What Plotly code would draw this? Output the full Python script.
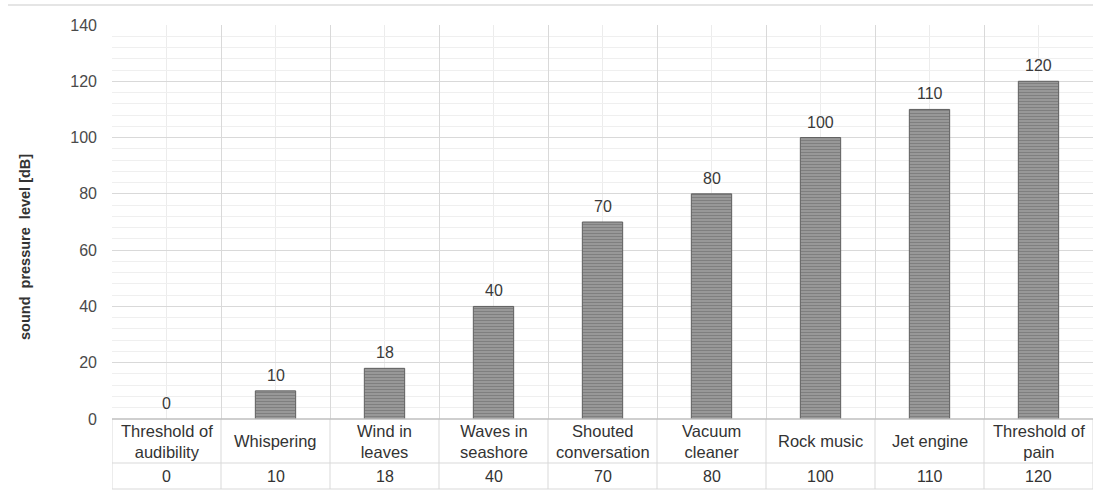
import plotly.graph_objects as go

categories = ["Threshold of<br>audibility", "Whispering", "Wind in<br>leaves", "Waves in<br>seashore",
              "Shouted<br>conversation", "Vacuum<br>cleaner", "Rock music", "Jet engine",
              "Threshold of<br>pain"]
levels_db = [0, 10, 18, 40, 70, 80, 100, 110, 120]
y_ticks = [0, 20, 40, 60, 80, 100, 120, 140]

W, H = 1094, 492
ML, MR, MT, MB = 112, 1, 25, 73
plot_h = H - MT - MB
plot_w = W - ML - MR
n = len(categories)
xs = list(range(n))
FONT = "Arial, Liberation Sans"

def py(px_below_zero):
    # paper y for a pixel offset below the x axis
    return -px_below_zero / plot_h

fig = go.Figure()
fig.add_trace(go.Bar(
    x=xs, y=levels_db, width=0.37,
    marker=dict(color="#8e8e8e",
                # no outline on zero-height bars
                line=dict(color="#5e5e5e", width=[1 if v > 0 else 0 for v in levels_db]),
                pattern=dict(shape="-", fgcolor="#626262", bgcolor="#9c9c9c", size=3, solidity=0.45)),
    hoverinfo="skip",
))

annotations = []
# value labels above bars
for i, v in zip(xs, levels_db):
    annotations.append(dict(x=i, y=v, xref="x", yref="y", text=str(v), showarrow=False,
                            yanchor="bottom", yshift=5,
                            font=dict(family=FONT, size=16, color="#3a3a3a")))
# data table rows
for i, (c, v) in enumerate(zip(categories, levels_db)):
    annotations.append(dict(x=i, y=py(22), xref="x", yref="paper", text=c, showarrow=False,
                            yanchor="middle",
                            font=dict(family=FONT, size=16.5, color="#333333")))
    annotations.append(dict(x=i, y=py(57), xref="x", yref="paper", text=str(v), showarrow=False,
                            yanchor="middle",
                            font=dict(family=FONT, size=16, color="#333333")))
# axis title
annotations.append(dict(x=-(ML - 25) / plot_w, y=(H - MB - 247) / plot_h, xref="paper", yref="paper",
                        xanchor="center", yanchor="middle",
                        text="<b>sound  pressure  level [dB]</b>", textangle=-90, showarrow=False,
                        font=dict(family=FONT, size=14.5, color="#333333")))

shapes = []
grid = "#d9d9d9"
for b in range(n + 1):
    shapes.append(dict(type="line", xref="x", yref="paper", x0=b - 0.5, x1=b - 0.5,
                       y0=0, y1=py(70), line=dict(color=grid, width=1)))
for off in (44, 70):
    shapes.append(dict(type="line", xref="x", yref="paper", x0=-0.5, x1=n - 0.5,
                       y0=py(off), y1=py(off), line=dict(color=grid, width=1)))
shapes.append(dict(type="line", xref="x", yref="paper", x0=-0.5, x1=n - 0.5,
                   y0=0, y1=0, line=dict(color="#bfbfbf", width=1.5)))
# frame line across the top
shapes.append(dict(type="line", xref="paper", yref="paper",
                   x0=-(ML - 8) / plot_w, x1=1.0, y0=1 + 20 / plot_h, y1=1 + 20 / plot_h,
                   line=dict(color="#dcdcdc", width=1.5)))

fig.update_layout(
    width=W, height=H, margin=dict(l=ML, r=MR, t=MT, b=MB),
    paper_bgcolor="white", plot_bgcolor="white", showlegend=False,
    annotations=annotations, shapes=shapes,
    xaxis=dict(range=[-0.5, n - 0.5], tickmode="linear", tick0=-0.5, dtick=1,
               showticklabels=False, showgrid=True, gridcolor=grid, gridwidth=1,
               minor=dict(tickmode="linear", tick0=0, dtick=1, showgrid=True, gridcolor="#ececec"),
               zeroline=False, showline=False, fixedrange=True),
    yaxis=dict(range=[0, 140], tickvals=y_ticks, showgrid=True, gridcolor=grid, gridwidth=1,
               minor=dict(dtick=4, tick0=0, showgrid=True, gridcolor="#efefef"),
               zeroline=False, showline=False, ticks="", ticklabelstandoff=14,
               tickfont=dict(family=FONT, size=16, color="#4a4a4a")),
)

fig.write_html("out.html")
